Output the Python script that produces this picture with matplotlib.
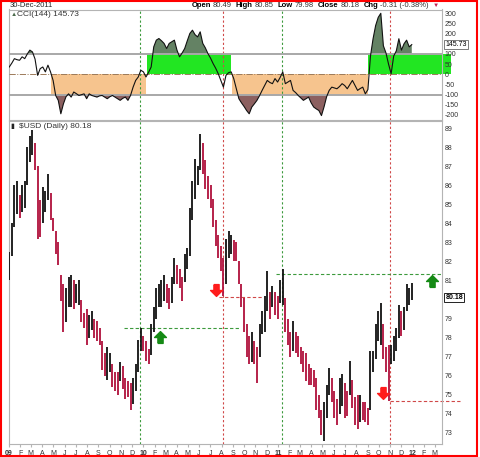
import numpy as np
import pandas as pd
import matplotlib
matplotlib.use('Agg')
import matplotlib.pyplot as plt
import matplotlib.dates as mdates
from matplotlib.patches import Rectangle
from matplotlib.offsetbox import TextArea, HPacker, AnchoredOffsetbox

plt.rcParams['font.family'] = ['Liberation Sans', 'DejaVu Sans']
plt.rcParams['axes.unicode_minus'] = False

# weekly $USD bars (Fridays, 2 Jan 2009 .. 30 Dec 2011)
first_week = '2009-01-02'
usd_high = [
    82.5, 84.0, 86.0, 86.2, 85.5, 86.0, 86.2, 88.0, 88.6, 88.9,
    88.2, 87.0, 85.2, 85.9, 85.7, 86.6, 85.6, 84.3, 83.6, 83.0,
    81.3, 80.8, 80.6, 81.2, 81.3, 81.0, 80.8, 81.0, 80.0, 79.3,
    79.5, 79.2, 79.4, 79.0, 78.9, 78.5, 77.8, 77.2, 77.5, 77.2,
    76.6, 76.2, 76.2, 76.7, 76.5, 75.9, 75.7, 75.6, 75.9, 76.6,
    77.9, 78.5, 78.1, 77.8, 77.4, 78.7, 79.6, 80.6, 80.8, 81.0,
    81.3, 80.8, 80.6, 81.2, 82.2, 81.8, 81.6, 81.2, 82.4, 82.7,
    84.8, 86.2, 87.4, 87.0, 88.7, 88.2, 87.3, 86.5, 86.0, 85.3,
    84.2, 83.4, 82.8, 82.2, 83.2, 83.6, 83.4, 83.1, 83.0, 82.0,
    80.8, 80.1, 78.7, 78.1, 78.3, 77.8, 77.5, 78.7, 79.4, 80.2,
    81.5, 80.4, 80.7, 80.4, 80.2, 81.0, 81.6, 80.1, 79.0, 78.3,
    78.9, 78.3, 78.1, 77.5, 77.3, 77.2, 76.6, 76.4, 76.3, 75.9,
    75.0, 74.2, 74.6, 75.5, 76.4, 75.9, 75.2, 74.8, 75.9, 76.1,
    75.6, 75.2, 76.8, 75.8, 74.9, 75.0, 75.0, 74.6, 74.6, 74.3,
    77.3, 77.3, 78.7, 79.4, 79.8, 78.7, 77.5, 77.6, 77.6, 78.1,
    78.5, 79.7, 79.4, 79.6, 80.8, 80.6, 80.85,
]
usd_low = [
    81.0, 82.3, 83.8, 84.5, 84.3, 84.6, 84.8, 86.0, 87.2, 87.6,
    86.8, 83.2, 83.3, 84.0, 84.6, 85.2, 84.2, 83.6, 82.4, 81.8,
    79.9, 78.3, 78.8, 79.6, 79.6, 79.5, 79.8, 79.7, 78.8, 78.5,
    77.6, 78.0, 78.4, 78.0, 77.8, 77.6, 76.3, 76.0, 75.8, 76.2,
    75.4, 75.2, 75.0, 75.7, 75.3, 74.8, 74.9, 74.2, 74.5, 75.2,
    76.2, 77.3, 77.3, 76.8, 76.6, 77.1, 78.3, 79.0, 79.6, 79.6,
    79.9, 79.8, 79.5, 79.8, 80.8, 80.8, 80.6, 79.9, 80.9, 81.6,
    82.3, 84.2, 85.3, 86.0, 86.8, 86.6, 85.8, 85.3, 84.8, 83.8,
    82.8, 82.2, 81.5, 80.2, 80.8, 82.2, 82.4, 82.0, 82.0, 80.8,
    79.6, 78.3, 77.0, 76.6, 76.7, 76.6, 75.6, 77.0, 78.2, 78.3,
    79.4, 79.0, 79.6, 79.2, 79.0, 79.8, 79.7, 78.3, 77.6, 77.0,
    77.3, 77.2, 77.0, 76.6, 76.2, 75.7, 75.5, 75.5, 75.4, 74.2,
    73.8, 72.9, 72.6, 73.8, 75.0, 74.6, 73.8, 73.4, 74.0, 74.4,
    73.8, 73.9, 75.0, 74.3, 73.4, 73.2, 73.6, 73.7, 73.6, 73.4,
    74.2, 76.2, 76.9, 77.8, 77.6, 76.9, 76.2, 74.7, 76.6, 76.8,
    77.3, 78.0, 78.1, 78.4, 79.4, 79.7, 79.98,
]
cci_144 = [
    36, 55, 77, 72, 69, 86, 77, 100, 119, 110,
    75, -5, 28, 36, 12, 45, 12, -30, -104, -128,
    -194, -145, -110, -96, -112, -87, -95, -104, -100, -96,
    -120, -96, -104, -108, -112, -106, -104, -112, -120, -110,
    -104, -112, -120, -128, -118, -112, -128, -104, -63, -30,
    -13, 20, 12, -13, 10, 36, 135, 168, 176, 165,
    152, 127, 152, 160, 168, 119, 86, 105, 127, 165,
    201, 217, 195, 184, 209, 152, 130, 102, 80, 53,
    30, 3, -30, -63, -5, 8, 12, -21, -70, -120,
    -140, -158, -178, -194, -161, -145, -128, -105, -79, -55,
    -30, -40, -46, -21, -38, -15, 12, -46, -38, -30,
    -79, -90, -104, -116, -128, -120, -112, -140, -161, -170,
    -178, -203, -160, -110, -79, -63, -67, -71, -60, -46,
    -55, -71, -50, -30, -55, -79, -70, -63, -96, -75,
    90, 175, 240, 280, 300, 140, 105, 50, 3, 90,
    115, 175, 119, 150, 168, 135, 146,
]

# signal markup drawn on the chart
signal_dates = ['2009-12-24', '2010-08-06', '2011-01-13', '2011-11-01']
signal_kinds = ['buy', 'sell', 'buy', 'sell']
level_values = [78.5, 80.13, 81.35, 74.68]
level_starts = ['2009-11-08', '2010-07-24', '2010-12-28', '2011-11-01']
level_ends = ['2010-09-21', '2010-11-20', '2012-03-21', '2012-05-10']
level_kinds = ['buy', 'sell', 'buy', 'sell']
arrow_dates = ['2010-02-16', '2010-07-17', '2012-02-23', '2011-10-13']
arrow_values = [78.06, 80.5, 80.95, 75.1]
arrow_kinds = ['buy', 'sell', 'buy', 'sell']
buy_zones = [('2010-01-12', '2010-08-27'), ('2011-09-02', '2012-04-15')]
sell_zones = [('2009-04-24', '2010-01-07'), ('2010-08-30', '2011-09-02')]

last_close = 80.18
last_cci = 145.73
price_ticks = list(range(73, 90))
cci_ticks = list(range(-200, 301, 50))
month_letters = 'JFMAMJJASOND'

W, H = 480, 457
dates = pd.date_range(first_week, periods=len(usd_high), freq='7D')
xd = mdates.date2num(dates)
hi = np.array(usd_high)
lo = np.array(usd_low)
cci = np.array(cci_144, dtype=float)
d2n = lambda s: mdates.date2num(pd.Timestamp(s))

line_col = {'buy': '#3c9a3c', 'sell': '#d04848'}
arrow_col = {'buy': '#158a15', 'sell': '#ff1c1c'}

fig = plt.figure(figsize=(W / 100, H / 100), dpi=100)
ax_cci = fig.add_axes([8.5 / W, 1 - 120 / H, 433.5 / W, 110.5 / H])
ax_px = fig.add_axes([8.5 / W, 1 - 444 / H, 433.5 / W, 323 / H])

xmin, xmax = d2n('2008-12-31'), d2n('2012-03-21')
for ax in (ax_cci, ax_px):
    ax.set_xlim(xmin, xmax)
    for s in ax.spines.values():
        s.set_color('#b4b4b4')
        s.set_linewidth(0.8)
    ax.yaxis.tick_right()
    ax.tick_params(axis='y', labelsize=5, pad=2, length=0, labelcolor='#333333')
    for d, k in zip(signal_dates, signal_kinds):
        ax.axvline(d2n(d), color=line_col[k], lw=0.8, ls=(0, (2, 2)), zorder=2)

# ---- CCI panel
for a, b in buy_zones:
    ax_cci.fill_between([d2n(a), d2n(b)], 0, 100, color='#22e622', lw=0, zorder=1, clip_on=False)
for a, b in sell_zones:
    ax_cci.fill_between([d2n(a), d2n(b)], -100, 0, color='#f6c48e', lw=0, zorder=1)
ax_cci.fill_between(xd, cci, 100, where=cci > 100, interpolate=True, color='#648264', lw=0, zorder=2)
ax_cci.fill_between(xd, cci, -100, where=cci < -100, interpolate=True, color='#8c6060', lw=0, zorder=2)
ax_cci.axhline(100, color='#a8a8a8', lw=1.4, zorder=3)
ax_cci.axhline(-100, color='#a8a8a8', lw=1.4, zorder=3)
ax_cci.axhline(0, color='#9c7a5a', lw=0.7, ls='-.', zorder=3)
ax_cci.plot(xd, cci, color='#111111', lw=0.8, zorder=4)
ax_cci.set_ylim(-224.6, 318.7)
# the 150 label sits under the value tag
ax_cci.set_yticks([t for t in cci_ticks if abs(t - last_cci) > 25])
ax_cci.set_xticks([])
ax_cci.annotate('%.2f' % last_cci, xy=(1, 148), xycoords=ax_cci.get_yaxis_transform(),
                xytext=(2.5, 0), textcoords='offset points', fontsize=5, va='center',
                bbox=dict(boxstyle='square,pad=0.15', fc='white', ec='#666666', lw=0.6))

# ---- price panel
mid = (hi + lo) / 2
up = np.r_[True, mid[1:] >= mid[:-1]]
ax_px.vlines(xd, lo, hi, colors=np.where(up, '#111111', '#b0103c'), lw=1.3, zorder=3)
for v, a, b, k in zip(level_values, level_starts, level_ends, level_kinds):
    ax_px.plot([d2n(a), d2n(b)], [v, v], color=line_col[k], lw=0.8, ls=(0, (3, 2)),
               zorder=2, clip_on=False)
up_arrow = [(-0.22, -0.5), (0.22, -0.5), (0.22, 0.0), (0.5, 0.0), (0, 0.5),
            (-0.5, 0.0), (-0.22, 0.0), (-0.22, -0.5)]
down_arrow = [(x, -y) for x, y in up_arrow]
for d, v, k in zip(arrow_dates, arrow_values, arrow_kinds):
    ax_px.plot(d2n(d), v, ls='none', marker=up_arrow if k == 'buy' else down_arrow,
               markersize=8.5, color=arrow_col[k], mec=arrow_col[k], clip_on=False, zorder=5)
ax_px.set_ylim(72.42, 89.37)
# the 80 label sits under the close tag
ax_px.set_yticks([t for t in price_ticks if abs(t - last_close) > 0.5])
ax_px.annotate('%.2f' % last_close, xy=(1, 80.13), xycoords=ax_px.get_yaxis_transform(),
               xytext=(2.5, 0), textcoords='offset points', fontsize=5, va='center',
               fontweight='bold',
               bbox=dict(boxstyle='square,pad=0.15', fc='white', ec='#222222', lw=0.7))

months = pd.date_range('2009-01-01', '2012-03-01', freq='MS')
ax_px.set_xticks(mdates.date2num(months))
ax_px.set_xticklabels(['%02d' % (m.year % 100) if m.month == 1 else month_letters[m.month - 1]
                       for m in months])
ax_px.tick_params(axis='x', labelsize=5, pad=2, length=2, color='#b4b4b4', labelcolor='#333333')
for t, m in zip(ax_px.get_xticklabels(), months):
    if m.month == 1:
        t.set_fontweight('bold')

# ---- header texts
fig.text(10 / W, 1 - 5.5 / H, '30-Dec-2011', fontsize=5.5, va='center', color='#222222')


def pair(label, value):
    return HPacker(children=[TextArea(label, textprops=dict(fontsize=5.5, fontweight='bold')),
                             TextArea(value, textprops=dict(fontsize=5.5, color='#333333'))],
                   sep=1.4, pad=0, align='baseline')


header = HPacker(children=[pair('Open', '80.49'), pair('High', '80.85'), pair('Low', '79.98'),
                           pair('Close', '80.18'), pair('Chg', '-0.31 (-0.38%)'),
                           TextArea('\u25bc', textprops=dict(fontsize=4.5, color='#c02050'))],
                 sep=2.9, pad=0, align='baseline')
fig.add_artist(AnchoredOffsetbox(loc='center right', child=header, pad=0, borderpad=0,
                                 frameon=False, bbox_to_anchor=(439 / W, 1 - 5.5 / H),
                                 bbox_transform=fig.transFigure))

fig.text(11 / W, 1 - 14 / H, '\u25b2', fontsize=4.5, va='center', color='#4d6b4d')
fig.text(17 / W, 1 - 14 / H, 'CCI(144) 145.73', fontsize=6, va='center', color='#333333')
fig.text(10 / W, 1 - 126.5 / H, '\u25ae', fontsize=5, va='center', color='#222222')
fig.text(19 / W, 1 - 126.5 / H, '$USD (Daily) 80.18', fontsize=6, va='center', color='#333333')

fig.patches.append(Rectangle((1.0 / W, 1.0 / H), 476 / W, 455 / H, transform=fig.transFigure,
                             fill=False, ec='#ff0000', lw=1.5))

fig.savefig('out.png', dpi=100)
